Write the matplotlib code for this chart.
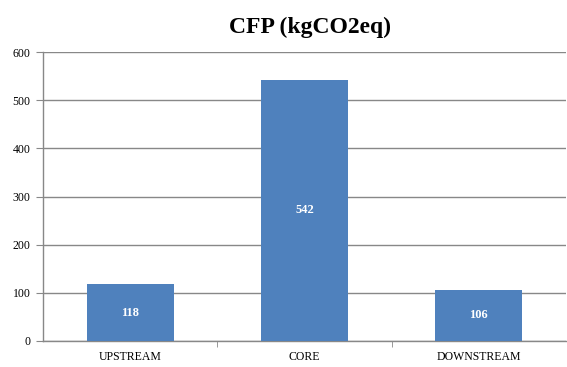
import matplotlib
matplotlib.use("Agg")
import matplotlib.pyplot as plt
from matplotlib.ticker import MultipleLocator, FixedLocator

categories = ["UPSTREAM", "CORE", "DOWNSTREAM"]
values = [118, 542, 106]

plt.rcParams['font.family'] = ['Liberation Serif', 'DejaVu Serif']

fig = plt.figure(figsize=(5.67, 3.67), dpi=100)
ax = fig.add_axes([0.076, 0.071, 0.922, 0.787])

x = range(len(categories))
bars = ax.bar(x, values, width=0.5, color="#4F81BD", zorder=3)

for i, v in enumerate(values):
    ax.text(i, v / 2, str(v), ha="center", va="center", color="white",
            fontsize=9, fontweight="bold", zorder=4)

ax.set_xlim(-0.5, 2.5)
ax.set_ylim(0, 600)
ax.yaxis.set_major_locator(MultipleLocator(100))
ax.grid(axis="y", color="#888888", linewidth=1, zorder=0)

ax.set_xticks(list(x))
ax.set_xticklabels(categories)
ax.xaxis.set_minor_locator(FixedLocator([0.5, 1.5]))
ax.tick_params(axis="x", which="major", length=0, pad=7, labelsize=8.5)
ax.tick_params(axis="x", which="minor", length=4, color="#888888", direction="out")
ax.tick_params(axis="y", length=5, color="#888888", labelsize=8.5, pad=4)

for s in ["top", "right"]:
    ax.spines[s].set_visible(False)
for s in ["left", "bottom"]:
    ax.spines[s].set_color("#888888")
    ax.spines[s].set_linewidth(1)

fig.text(0.547, 0.925, "CFP (kgCO2eq)", fontsize=17, fontweight="bold",
         ha="center", va="center")

fig.savefig("out.png", dpi=100)
